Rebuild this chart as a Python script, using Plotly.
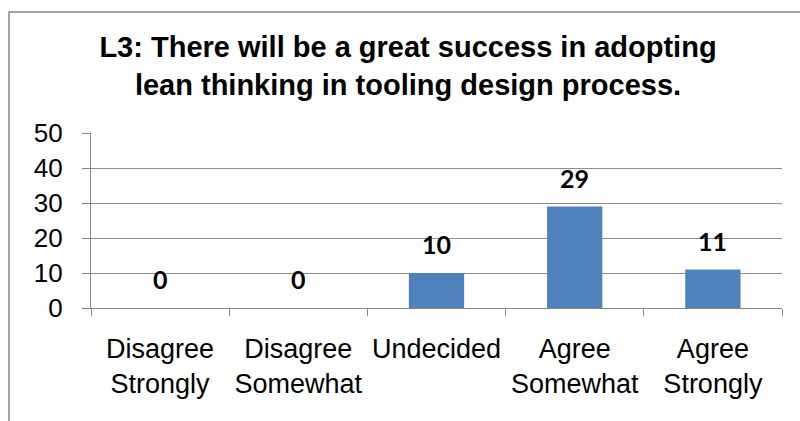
import plotly.graph_objects as go

categories = ["Disagree<br>Strongly", "Disagree<br>Somewhat", "Undecided", "Agree<br>Somewhat", "Agree<br>Strongly"]
counts = [0, 0, 10, 29, 11]
y_ticks = [0, 10, 20, 30, 40, 50]
title_text = "L3: There will be a great success in adopting<br>lean thinking in tooling design process."

W, H = 800, 421
L, R, T, B = 91, 18, 133, 113
plot_w = W - L - R
plot_h = H - T - B

fig = go.Figure()
fig.add_trace(go.Bar(
    x=categories, y=counts,
    marker=dict(color="#4F81BD", line=dict(width=0)),
    width=0.4,
    hoverinfo="skip",
))

# value labels above each bar
for c, v in zip(categories, counts):
    fig.add_annotation(
        x=c, y=v, text=f"<b>{v}</b>", showarrow=False,
        yshift=29, font=dict(family="Lato, Liberation Sans, Arial", size=25, color="black"),
        xref="x", yref="y",
    )

# outer chart frame
fig.add_shape(
    type="rect", xref="paper", yref="paper",
    x0=(9 - L) / plot_w, x1=(W + 10 - L) / plot_w,
    y0=-(H + 10 - (H - B)) / plot_h, y1=((H - B) - 12) / plot_h,
    line=dict(color="#868686", width=1.5), fillcolor="rgba(0,0,0,0)", layer="below",
)

fig.update_layout(
    width=W, height=H,
    margin=dict(l=L, r=R, t=T, b=B, pad=0),
    paper_bgcolor="white", plot_bgcolor="white",
    showlegend=False,
    title=dict(
        text=title_text, x=408 / W, xanchor="center", xref="container",
        y=1 - 57 / H, yanchor="middle", yref="container",
        font=dict(family="Liberation Sans, Arial", size=29, color="black", weight="bold"),
    ),
    font=dict(family="Liberation Sans, Arial", size=27, color="black"),
    xaxis=dict(
        type="category", range=[-0.5, 4.5],
        showline=True, linecolor="#868686", linewidth=1.2,
        ticks="outside", tickson="boundaries", ticklen=7, tickcolor="#868686",
        showgrid=False, tickfont=dict(size=27), ticklabelstandoff=16,
    ),
    yaxis=dict(
        range=[0, 50], tickvals=y_ticks,
        showline=True, linecolor="#868686", linewidth=1.2,
        ticks="outside", ticklen=8, tickcolor="#868686",
        showgrid=True, gridcolor="#8c8c8c", gridwidth=1,
        zeroline=False, tickfont=dict(size=26), ticklabelstandoff=14,
    ),
)

fig.write_html("out.html")
